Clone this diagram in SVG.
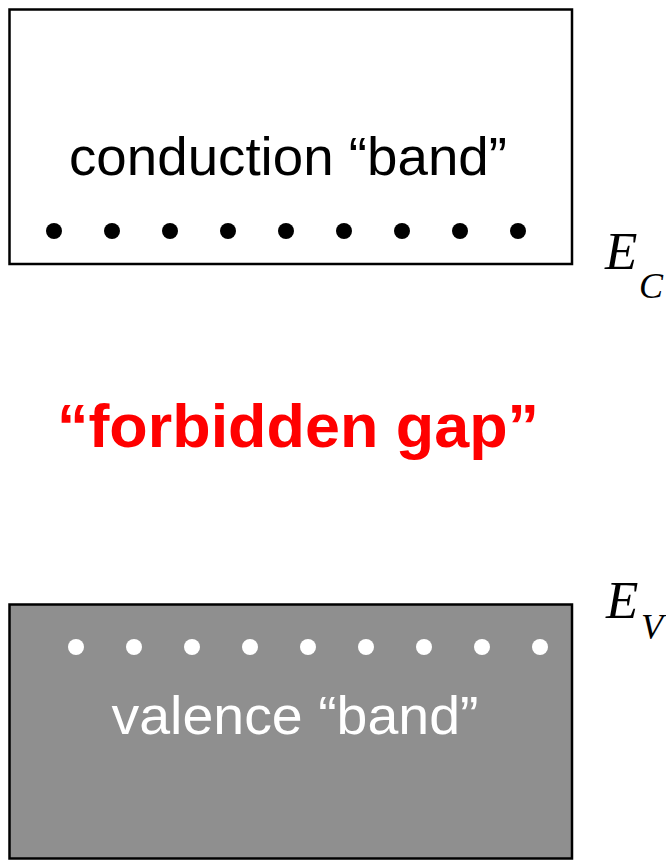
<svg xmlns="http://www.w3.org/2000/svg" width="666" height="860" viewBox="0 0 666 860">
<style>
.band{stroke:#000;stroke-width:2.5}
.lbl{font-family:"Liberation Sans",Arial,sans-serif;font-size:53px;text-anchor:middle}
.sym{font-family:"Liberation Serif","Times New Roman",serif;font-style:italic}
</style>
<rect width="666" height="860" fill="#fff"/>
<g id="conduction-band">
<rect class="band" x="9.5" y="9.5" width="562.5" height="254.5" fill="#fff"/>
<text class="lbl" x="288" y="175" fill="#000" textLength="438" lengthAdjust="spacingAndGlyphs">conduction “band”</text>
<g fill="#000">
<circle cx="54" cy="231" r="8"/><circle cx="112" cy="231" r="8"/><circle cx="170" cy="231" r="8"/><circle cx="228" cy="231" r="8"/><circle cx="286" cy="231" r="8"/><circle cx="344" cy="231" r="8"/><circle cx="402" cy="231" r="8"/><circle cx="460" cy="231" r="8"/><circle cx="518" cy="231" r="8"/>
</g>
</g>
<g id="ec-label">
<text class="sym" x="605" y="269" font-size="53">E</text>
<text class="sym" x="639" y="298" font-size="36">C</text>
</g>
<g id="forbidden-gap">
<text x="298" y="447" fill="#ff0000" font-family="'Liberation Sans',Arial,sans-serif" font-weight="bold" font-size="62" text-anchor="middle" textLength="482" lengthAdjust="spacingAndGlyphs">“forbidden gap”</text>
</g>
<g id="valence-band">
<rect class="band" x="9.5" y="604.5" width="562.5" height="254" fill="#8f8f8f"/>
<text class="lbl" x="295" y="734" fill="#fff" textLength="367" lengthAdjust="spacingAndGlyphs">valence “band”</text>
<g fill="#fff">
<circle cx="76" cy="647" r="8"/><circle cx="134" cy="647" r="8"/><circle cx="192" cy="647" r="8"/><circle cx="250" cy="647" r="8"/><circle cx="308" cy="647" r="8"/><circle cx="366" cy="647" r="8"/><circle cx="424" cy="647" r="8"/><circle cx="482" cy="647" r="8"/><circle cx="540" cy="647" r="8"/>
</g>
</g>
<g id="ev-label">
<text class="sym" x="606" y="618" font-size="53">E</text>
<text class="sym" x="641" y="639" font-size="36">V</text>
</g>
<g id="connectors"/>
</svg>
